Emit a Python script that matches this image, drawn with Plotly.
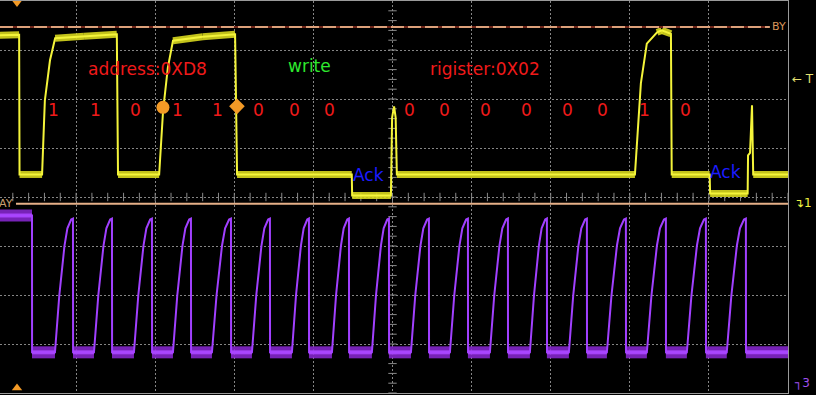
import plotly.graph_objects as go
import numpy as np

# ---------------- data (time in µs, 20 µs/div; vertical in divisions) ----------------
# Channel 1 (SDA, yellow) – vertices
sda_t = [0.0, 5.6, 5.7, 11.4, 12.1, 13.4, 14.7, 22.0, 30.3, 30.6, 41.0, 42.0, 43.2, 44.5, 52.0,
         60.2, 60.7, 89.7, 89.8, 99.6, 99.9, 100.4, 100.8, 101.1, 161.3, 162.8, 164.3, 166.9,
         168.1, 170.4, 170.6, 180.2, 180.3, 189.8, 189.9, 190.4, 190.9, 191.2, 200.0]
sda_v = [3.30, 3.31, 0.46, 0.46, 1.97, 2.79, 3.24, 3.28, 3.32, 0.46, 0.46, 1.77, 2.64, 3.19, 3.27,
         3.32, 0.46, 0.46, 0.03, 0.03, 1.62, 1.85, 1.62, 0.46, 0.46, 2.32, 3.13, 3.36,
         3.40, 3.33, 0.46, 0.46, 0.07, 0.07, 0.85, 0.90, 1.87, 0.46, 0.46]

# Channel 3 (SCL, purple) – edge times
scl_start_high_end = 8.85
scl_rise = [14.66, 24.52, 34.63, 44.49, 54.35, 64.46, 74.57, 84.69, 94.79,
            104.66, 114.52, 124.63, 134.74, 144.60, 154.21, 164.32, 174.43, 184.52]
scl_fall = [19.21, 29.07, 39.18, 49.04, 59.16, 69.01, 78.87, 88.99, 99.10,
            109.21, 119.07, 129.18, 139.04, 149.15, 159.01, 169.12, 179.24, 189.35]
scl_high = -0.38
scl_low = -3.17
# shape of one RC rising edge (fraction of rise->fall interval, level)
rise_frac = [0.0, 0.24, 0.53, 0.69, 0.90, 1.0]
rise_lvl = [-3.17, -2.01, -0.99, -0.64, -0.46, -0.44]

# decoded bits
bit_text = ["1", "1", "0", "1", "1", "0", "0", "0", "0", "0", "0", "0", "0", "0", "1", "0"]
bit_t = [14.41, 25.03, 35.14, 45.76, 55.87, 66.23, 75.33, 84.18,
         104.41, 113.25, 123.62, 133.98, 144.35, 153.20, 163.81, 174.18]
bit_y = 1.77

labels = ["address:0XD8", "write", "rigister:0X02"]
label_t = [38.17, 79.13, 123.37]
label_y = [2.62, 2.68, 2.62]
label_col = ["#f01a1a", "#2ee82e", "#f01a1a"]

ack_t = [94.04, 184.29]
ack_y = [0.44, 0.52]

cursor_a_y = -0.14
cursor_b_y = 3.47

mark_circle = (41.96, 1.83)
mark_diamond = (60.67, 1.85)

X0, X1 = 0.76, 200.0

# ---------------- build traces ----------------
scl_x = [0.0, scl_start_high_end, scl_start_high_end + 0.02]
scl_y = [scl_high, scl_high, scl_low]
for r, f in zip(scl_rise, scl_fall):
    for fr, lv in zip(rise_frac, rise_lvl):
        scl_x.append(r + fr * (f - r))
        scl_y.append(lv)
    scl_x.append(f + 0.03)
    scl_y.append(scl_low)
scl_x.append(200.0)
scl_y.append(scl_low)

scl_bx, scl_by = [0.0, scl_start_high_end, None], [scl_high, scl_high, None]
prev = scl_start_high_end
for r, f in zip(scl_rise, scl_fall):
    scl_bx += [prev, r, None]
    scl_by += [scl_low, scl_low, None]
    prev = f
scl_bx += [prev, 200.0]
scl_by += [scl_low, scl_low]

sda_bx, sda_by = [], []
for i in range(len(sda_t) - 1):
    if abs(sda_v[i + 1] - sda_v[i]) < 0.1 and sda_t[i + 1] - sda_t[i] > 0.5:
        sda_bx += [sda_t[i], sda_t[i + 1], None]
        sda_by += [sda_v[i], sda_v[i + 1], None]

fig = go.Figure()

# center-axis tick marks
fig.add_trace(go.Scatter(x=np.arange(0, 200.01, 4), y=[0] * 51, mode="markers",
                         marker=dict(symbol="line-ns", size=6, line=dict(color="#8a8a8a", width=1)),
                         hoverinfo="skip", showlegend=False))
fig.add_trace(go.Scatter(x=[100] * 41, y=np.arange(-4, 4.01, 0.2), mode="markers",
                         marker=dict(symbol="line-ew", size=6, line=dict(color="#8a8a8a", width=1)),
                         hoverinfo="skip", showlegend=False))

# SCL
fig.add_trace(go.Scatter(x=scl_bx, y=scl_by, mode="lines",
                         line=dict(color="rgba(140,40,215,0.85)", width=12),
                         hoverinfo="skip", showlegend=False))
fig.add_trace(go.Scatter(x=scl_x, y=scl_y, mode="lines",
                         line=dict(color="#a140ff", width=2),
                         hoverinfo="skip", showlegend=False))
fig.add_trace(go.Scatter(x=scl_bx, y=scl_by, mode="lines",
                         line=dict(color="rgba(170,70,255,0.9)", width=4),
                         hoverinfo="skip", showlegend=False))

# SDA
fig.add_trace(go.Scatter(x=sda_bx, y=sda_by, mode="lines",
                         line=dict(color="rgba(215,215,30,0.9)", width=7),
                         hoverinfo="skip", showlegend=False))
fig.add_trace(go.Scatter(x=sda_t, y=sda_v, mode="lines",
                         line=dict(color="#f4f43a", width=2),
                         hoverinfo="skip", showlegend=False))

# orange markers on the SDA trace
fig.add_trace(go.Scatter(x=[mark_circle[0]], y=[mark_circle[1]], mode="markers",
                         marker=dict(symbol="circle", size=13, color="#f39a26"),
                         hoverinfo="skip", showlegend=False))
fig.add_trace(go.Scatter(x=[mark_diamond[0]], y=[mark_diamond[1]], mode="markers",
                         marker=dict(symbol="diamond", size=12, color="#f39a26"),
                         hoverinfo="skip", showlegend=False))
fig.add_trace(go.Scatter(x=[5.06, 5.06], y=[3.97, -3.9], mode="markers", cliponaxis=False,
                         marker=dict(symbol=["triangle-down", "triangle-up"], size=9, color="#f39a26"),
                         hoverinfo="skip", showlegend=False))

shapes = [
    dict(type="line", xref="x", yref="y", x0=X0, x1=195.4, y0=cursor_b_y, y1=cursor_b_y,
         line=dict(color="#6e2418", width=2)),
    dict(type="line", xref="x", yref="y", x0=X0, x1=195.4, y0=cursor_b_y, y1=cursor_b_y,
         line=dict(color="#dca07a", width=2, dash="13px,4px")),
    dict(type="line", xref="x", yref="y", x0=4.8, x1=X1, y0=cursor_a_y, y1=cursor_a_y,
         line=dict(color="#e6b088", width=2)),
]

ann = []
F = "DejaVu Sans"
for t, y, s, c in zip(label_t, label_y, labels, label_col):
    ann.append(dict(x=t, y=y, text=s, showarrow=False, font=dict(family=F, size=17, color=c),
                    xanchor="center", yanchor="middle"))
for t, s in zip(bit_t, bit_text):
    ann.append(dict(x=t, y=bit_y, text=s, showarrow=False, font=dict(family=F, size=17, color="#f01a1a"),
                    xanchor="center", yanchor="middle"))
for t, y in zip(ack_t, ack_y):
    ann.append(dict(x=t, y=y, text="Ack", showarrow=False, font=dict(family=F, size=17, color="#1c1cff"),
                    xanchor="center", yanchor="middle"))
ann.append(dict(x=195.5, y=cursor_b_y, text="BY", showarrow=False, xanchor="left", yanchor="middle",
                font=dict(family=F, size=11, color="#d8965a")))
ann.append(dict(x=0, xref="paper", y=cursor_a_y, text="AY", showarrow=False, xanchor="left",
                yanchor="middle", xshift=-3, font=dict(family=F, size=11, color="#c9a070")))
ann.append(dict(x=1.003, xref="paper", y=0.80, yref="paper", text="← T", showarrow=False,
                xanchor="left", yanchor="middle", font=dict(family=F, size=12, color="#e6e070")))
ann.append(dict(x=1.005, xref="paper", y=0.485, yref="paper", text="↴1", showarrow=False,
                xanchor="left", yanchor="middle", font=dict(family=F, size=12, color="#f0f040")))
ann.append(dict(x=1.005, xref="paper", y=0.025, yref="paper", text="┐3", showarrow=False,
                xanchor="left", yanchor="middle", font=dict(family=F, size=12, color="#a050f0")))

fig.update_layout(
    width=816, height=395,
    margin=dict(l=0, r=28, t=1, b=2),
    paper_bgcolor="black", plot_bgcolor="black",
    shapes=shapes, annotations=ann,
    xaxis=dict(range=[X0, X1], dtick=20, tick0=0, showgrid=True, gridcolor="#858585",
               griddash="2px,2px", gridwidth=1, zeroline=False, showticklabels=False, ticks="",
               showline=True, mirror=True, linecolor="#9a9a9a", linewidth=1, fixedrange=True),
    yaxis=dict(range=[-4, 4], dtick=1, showgrid=True, gridcolor="#858585", griddash="2px,2px",
               gridwidth=1, zeroline=False, showticklabels=False, ticks="", side="right",
               showline=True, linecolor="#9a9a9a", linewidth=1, fixedrange=True),
)

fig.write_html("out.html")
